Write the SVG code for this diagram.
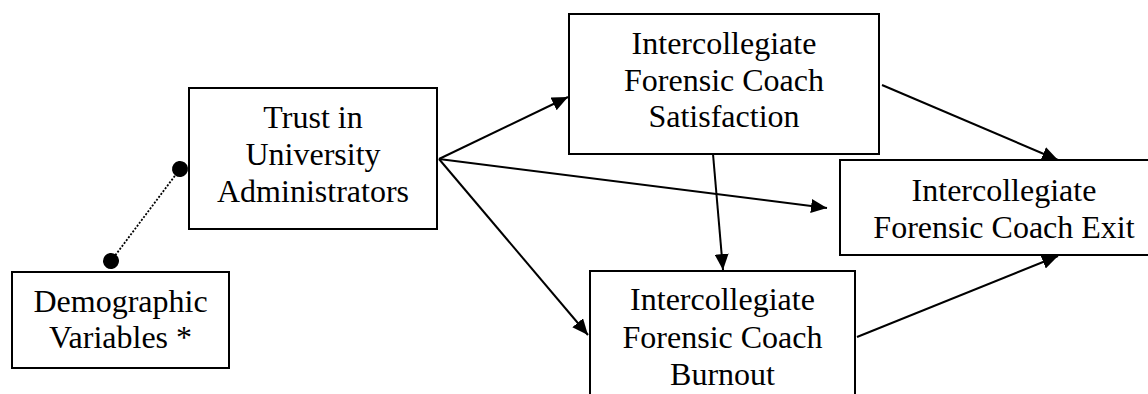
<svg xmlns="http://www.w3.org/2000/svg" width="1148" height="394" viewBox="0 0 1148 394">
<style>
.box{fill:#fff;stroke:#000;stroke-width:2}
.lbl{font-family:"Liberation Serif","Times New Roman",serif;font-size:32px;fill:#000;text-anchor:middle}
.edge{stroke:#000;stroke-width:2;fill:none;marker-end:url(#arr)}
.dot{stroke:#000;stroke-width:1.8;stroke-dasharray:2 1.6;fill:none;marker-start:url(#ball);marker-end:url(#ball)}
</style>
<defs>
<marker id="arr" markerUnits="userSpaceOnUse" markerWidth="17" markerHeight="14" refX="16" refY="7" orient="auto" viewBox="0 0 17 14">
<path d="M0,0 L16,7 L0,14 Z" fill="#000"/>
</marker>
<marker id="ball" markerUnits="userSpaceOnUse" markerWidth="18" markerHeight="18" refX="9" refY="9" orient="auto" viewBox="0 0 18 18">
<circle cx="9" cy="9" r="8" fill="#000"/>
</marker>
</defs>
<rect width="1148" height="394" fill="#fff"/>
<g id="connectors">
<line class="dot" x1="111" y1="261" x2="180" y2="169"/>
<line class="edge" x1="439" y1="159" x2="568" y2="97"/>
<line class="edge" x1="439" y1="159" x2="827" y2="208"/>
<line class="edge" x1="439" y1="159" x2="588" y2="335"/>
<line class="edge" x1="713" y1="154" x2="723" y2="270"/>
<line class="edge" x1="882" y1="85" x2="1058" y2="160"/>
<line class="edge" x1="857" y1="337" x2="1058" y2="256"/>
</g>
<g id="demographic">
<rect class="box" x="12" y="272" width="217" height="96"/>
<text class="lbl" x="120.5" y="312">Demographic</text>
<text class="lbl" x="120.5" y="348">Variables *</text>
</g>
<g id="trust">
<rect class="box" x="189" y="88" width="248" height="141"/>
<text class="lbl" x="313" y="128">Trust in</text>
<text class="lbl" x="313" y="165">University</text>
<text class="lbl" x="313" y="202">Administrators</text>
</g>
<g id="satisfaction">
<rect class="box" x="569" y="14" width="310" height="140"/>
<text class="lbl" x="724" y="54">Intercollegiate</text>
<text class="lbl" x="724" y="91">Forensic Coach</text>
<text class="lbl" x="724" y="127">Satisfaction</text>
</g>
<g id="exit">
<rect class="box" x="840" y="160" width="330" height="95"/>
<text class="lbl" x="1004" y="201">Intercollegiate</text>
<text class="lbl" x="1004" y="238">Forensic Coach Exit</text>
</g>
<g id="burnout">
<rect class="box" x="590" y="271" width="265" height="140"/>
<text class="lbl" x="722.5" y="310">Intercollegiate</text>
<text class="lbl" x="722.5" y="348">Forensic Coach</text>
<text class="lbl" x="722.5" y="385">Burnout</text>
</g>
</svg>
